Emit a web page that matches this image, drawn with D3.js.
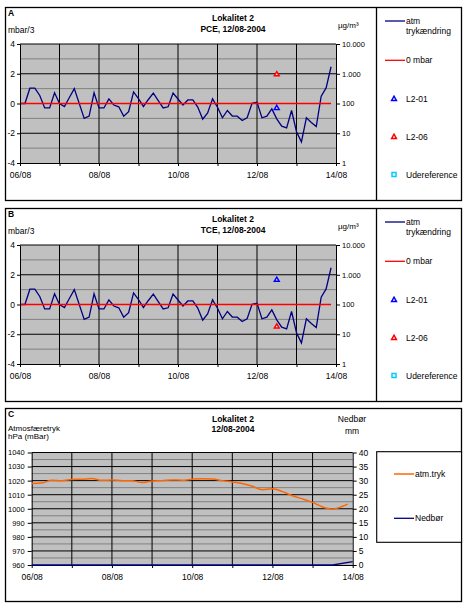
<!DOCTYPE html>
<html>
<head>
<meta charset="utf-8">
<script src="https://cdn.jsdelivr.net/npm/d3@7"></script>
<style>
  body { margin: 0; background: #fff; }
  text { font-family: "Liberation Sans", Arial, sans-serif; fill: #000; }
</style>
</head>
<body>
<div id="chart"></div>
<script>

// atm. trykændring, mbar pr. 3 timer, fra 06/08 00:00
var trykAendring = [0, 0, 1.03, 1.03, 0.54, -0.3, -0.3, 0.72, 0, -0.2,
  0.4, 1.0, 0.0, -1.0, -0.85, 0.72, -0.3, -0.3, 0.31, -0.1,
  -0.22, -0.85, -0.55, 0.78, 0.33, -0.2, 0.27, 0.7, 0.2, -0.3,
  -0.22, 0.7, 0.3, -0.1, 0.24, 0.24, -0.24, -1.05, -0.63, 0.31,
  -0.25, -0.96, -0.47, -0.84, -0.85, -1.14, -0.96, 0.02, 0.09, -0.96,
  -0.85, -0.36, -1.03, -1.52, -1.64, -0.47, -1.9, -2.58, -0.96, -1.28,
  -1.55, 0.49, 1.05, 2.47];

// målinger 12/08 kl 12 (µg/m³)
var maaleTime = 156;
var pceL201 = 70, pceL206 = 950;
var tceL201 = 670, tceL206 = 18;

// atmosfæretryk (hPa), timer fra 06/08 00:00
var atmTrykTimer = [0, 6, 12, 18, 24, 30, 36, 42, 48, 54, 60, 66, 72, 78, 84, 90,
  96, 102, 108, 114, 120, 126, 132, 138, 144, 150, 156, 162, 168, 174, 180, 186, 189];
var atmTryk = [1018, 1018.3, 1020.3, 1020, 1020.8, 1021, 1021.5, 1020.2, 1020.5, 1020,
  1020, 1018.6, 1019.8, 1020, 1020.5, 1020.3, 1021, 1021.4, 1021.2, 1020,
  1019.1, 1018, 1016, 1013.6, 1014.2, 1012.2, 1009.2, 1007, 1004.5, 1001.3,
  999.8, 1001.8, 1003.3];

// nedbør (mm)
var nedborTimer = [0, 24, 48, 72, 96, 120, 144, 168, 180, 192];
var nedbor = [0, 0, 0, 0, 0, 0, 0, 0, 0, 1.2];

var logTicks = [1, 10, 100, 1000, 10000];
var logLabels = ["1", "10", "100", "1.000", "10.000"];
var trykTicks = [960, 970, 980, 990, 1000, 1010, 1020, 1030, 1040];
var nedborTicks = [0, 5, 10, 15, 20, 25, 30, 35, 40];

var start = new Date(2004, 7, 6), slut = new Date(2004, 7, 14);
function tid(h) { return new Date(start.getTime() + h * 3600000); }

var navy = "#000080", red = "#ff0000", orange = "#ff6600", cyan = "#00ccff";

var svg = d3.select("#chart").append("svg")
  .attr("width", 466)
  .attr("height", 608);

function xTickFormat(d) {
  return d.getDate() % 2 == 0 ? d3.timeFormat("%d/%m")(d) : "";
}

function styleAxis(ax, size) {
  ax.selectAll("text").attr("font-size", size);
  ax.selectAll("line").attr("stroke", "#000");
  ax.select(".domain").attr("stroke", "#000");
}

function frame(g) {
  g.append("rect")
    .attr("x", 5.5).attr("y", 0)
    .attr("width", 456).attr("height", 193)
    .attr("fill", "none")
    .attr("stroke", "#000")
    .attr("stroke-width", 1.3);
}

function txt(g, x, y, s, opts) {
  opts = opts || {};
  return g.append("text")
    .attr("x", x).attr("y", y)
    .attr("font-size", opts.size || 8.5)
    .attr("font-weight", opts.bold ? "bold" : null)
    .attr("text-anchor", opts.anchor || "start")
    .text(s);
}

function triangle(g, x, y, col) {
  g.append("path")
    .attr("d", d3.symbol().type(d3.symbolTriangle).size(10)())
    .attr("transform", "translate(" + x + "," + y + ")")
    .attr("fill", "#fff")
    .attr("stroke", col)
    .attr("stroke-width", 1.5);
}

function panelAB(top, letter, stof, l201, l206) {
  var g = svg.append("g").attr("transform", "translate(0," + top + ")");
  frame(g);
  g.append("line")
    .attr("x1", 376.5).attr("x2", 376.5)
    .attr("y1", 0).attr("y2", 193)
    .attr("stroke", "#000").attr("stroke-width", 1.3);

  var x = d3.scaleTime().domain([start, slut]).range([20, 336]);
  var y = d3.scaleLinear().domain([-4, 4]).range([155.5, 36.5]);
  var yLog = d3.scaleLog().domain([1, 10000]).range([155.5, 36.5]);

  g.append("rect")
    .attr("x", x(start)).attr("y", y(4))
    .attr("width", x(slut) - x(start)).attr("height", y(-4) - y(4))
    .attr("fill", "#c0c0c0");

  g.selectAll(".minor").data([-3, -1, 1, 3]).enter().append("line")
    .attr("x1", x(start)).attr("x2", x(slut))
    .attr("y1", function(d) { return y(d); })
    .attr("y2", function(d) { return y(d); })
    .attr("stroke", "#808080");

  g.selectAll(".major").data([-2, 2, 4]).enter().append("line")
    .attr("x1", x(start)).attr("x2", x(slut))
    .attr("y1", function(d) { return y(d); })
    .attr("y2", function(d) { return y(d); })
    .attr("stroke", "#000");

  g.selectAll(".vgrid").data(d3.timeDay.range(d3.timeDay.offset(start, 1), slut)).enter().append("line")
    .attr("x1", function(d) { return x(d); })
    .attr("x2", function(d) { return x(d); })
    .attr("y1", y(4)).attr("y2", y(-4))
    .attr("stroke", "#000");

  var line = d3.line()
    .x(function(d, i) { return x(tid(i * 3)); })
    .y(function(d) { return y(d); });

  g.append("path")
    .datum(trykAendring)
    .attr("d", line)
    .attr("fill", "none")
    .attr("stroke", navy)
    .attr("stroke-width", 1.3);

  g.append("path")
    .datum(trykAendring.map(function() { return 0; }))
    .attr("d", line)
    .attr("fill", "none")
    .attr("stroke", red)
    .attr("stroke-width", 1.3);

  triangle(g, x(tid(maaleTime)), yLog(l201), "#0000ff");
  triangle(g, x(tid(maaleTime)), yLog(l206), red);

  var axL = g.append("g").attr("transform", "translate(" + x(start) + ",0)")
    .call(d3.axisLeft(y).tickValues([-4, -2, 0, 2, 4]).tickSize(3).tickSizeOuter(0)
      .tickPadding(2).tickFormat(function(d) { return String(d); }));
  styleAxis(axL, 8.5);

  var axR = g.append("g").attr("transform", "translate(" + x(slut) + ",0)")
    .call(d3.axisRight(yLog).tickValues(logTicks).tickSize(4).tickSizeOuter(0)
      .tickPadding(2).tickFormat(function(d, i) { return logLabels[i]; }));
  styleAxis(axR, 7.5);

  var axB = g.append("g").attr("transform", "translate(0," + y(-4) + ")")
    .call(d3.axisBottom(x).ticks(d3.timeDay.every(1)).tickSize(3).tickSizeOuter(0)
      .tickPadding(6).tickFormat(xTickFormat));
  styleAxis(axB, 8.5);

  txt(g, 8, 8.5, letter, { bold: true });
  txt(g, 8, 25, "mbar/3");
  txt(g, 233, 13.5, "Lokalitet 2", { bold: true, anchor: "middle" });
  txt(g, 233, 24, stof + ", 12/08-2004", { bold: true, anchor: "middle" });
  txt(g, 338, 20, "µg/m³", { size: 8 });

  // legend
  g.append("line").attr("x1", 385).attr("x2", 405).attr("y1", 13.5).attr("y2", 13.5)
    .attr("stroke", navy).attr("stroke-width", 1.3);
  txt(g, 406, 16.5, "atm");
  txt(g, 406, 26.5, "trykændring");
  g.append("line").attr("x1", 385).attr("x2", 405).attr("y1", 52.8).attr("y2", 52.8)
    .attr("stroke", red).attr("stroke-width", 1.3);
  txt(g, 406, 55.5, "0 mbar");
  triangle(g, 394, 91.5, "#0000ff");
  txt(g, 406, 94.5, "L2-01");
  triangle(g, 394, 129.5, red);
  txt(g, 406, 132.5, "L2-06");
  g.append("rect").attr("x", 392).attr("y", 165).attr("width", 4).attr("height", 4)
    .attr("fill", "#fff").attr("stroke", cyan).attr("stroke-width", 1.5);
  txt(g, 406, 170, "Udereference");
}

panelAB(7.5, "A", "PCE", pceL201, pceL206);
panelAB(208.5, "B", "TCE", tceL201, tceL206);

// Panel C
var gC = svg.append("g").attr("transform", "translate(0,408.5)");
frame(gC);

var xC = d3.scaleTime().domain([start, slut]).range([31.7, 352.7]);
var yC = d3.scaleLinear().domain([960, 1040]).range([156.5, 44]);
var yN = d3.scaleLinear().domain([0, 40]).range([156.5, 44]);

gC.append("rect")
  .attr("x", xC(start)).attr("y", yC(1040))
  .attr("width", xC(slut) - xC(start)).attr("height", yC(960) - yC(1040))
  .attr("fill", "#c0c0c0");

gC.selectAll(".hgrid").data(d3.range(965, 1041, 5)).enter().append("line")
  .attr("x1", xC(start)).attr("x2", xC(slut))
  .attr("y1", function(d) { return yC(d); })
  .attr("y2", function(d) { return yC(d); })
  .attr("stroke", function(d) { return d % 10 == 0 ? "#000" : "#808080"; });

gC.selectAll(".vgrid").data(d3.timeDay.range(d3.timeDay.offset(start, 1), slut)).enter().append("line")
  .attr("x1", function(d) { return xC(d); })
  .attr("x2", function(d) { return xC(d); })
  .attr("y1", yC(1040)).attr("y2", yC(960))
  .attr("stroke", "#000");

var axCL = gC.append("g").attr("transform", "translate(" + xC(start) + ",0)")
  .call(d3.axisLeft(yC).tickValues(trykTicks).tickSize(4).tickSizeOuter(0).tickPadding(3)
    .tickFormat(function(d) { return String(d); }));
styleAxis(axCL, 7.5);

var axCR = gC.append("g").attr("transform", "translate(" + xC(slut) + ",0)")
  .call(d3.axisRight(yN).tickValues(nedborTicks).tickSize(4).tickSizeOuter(0).tickPadding(2)
    .tickFormat(function(d) { return String(d); }));
styleAxis(axCR, 8.5);

var axCB = gC.append("g").attr("transform", "translate(0," + yC(960) + ")")
  .call(d3.axisBottom(xC).ticks(d3.timeDay.every(1)).tickSize(3).tickSizeOuter(0)
    .tickPadding(6).tickFormat(xTickFormat));
styleAxis(axCB, 8.5);

gC.append("path")
  .datum(d3.zip(nedborTimer, nedbor))
  .attr("d", d3.line()
    .x(function(d) { return xC(tid(d[0])); })
    .y(function(d) { return yN(d[1]); }))
  .attr("fill", "none")
  .attr("stroke", navy)
  .attr("stroke-width", 1.3);

gC.append("path")
  .datum(d3.zip(atmTrykTimer, atmTryk))
  .attr("d", d3.line()
    .curve(d3.curveMonotoneX)
    .x(function(d) { return xC(tid(d[0])); })
    .y(function(d) { return yC(d[1]); }))
  .attr("fill", "none")
  .attr("stroke", orange)
  .attr("stroke-width", 1.5);

txt(gC, 8, 8.5, "C", { bold: true });
txt(gC, 8, 22, "Atmosfæretryk", { size: 8 });
txt(gC, 8, 30, "hPa (mBar)", { size: 8 });
txt(gC, 233, 13.5, "Lokalitet 2", { bold: true, anchor: "middle" });
txt(gC, 233, 23.5, "12/08-2004", { bold: true, anchor: "middle" });
txt(gC, 352, 13.5, "Nedbør", { anchor: "middle" });
txt(gC, 352, 25.5, "mm", { anchor: "middle" });

// legend C
gC.append("rect")
  .attr("x", 376.7).attr("y", 43.2)
  .attr("width", 84.8).attr("height", 90.6)
  .attr("fill", "#fff")
  .attr("stroke", "#000")
  .attr("stroke-width", 1.1);
gC.append("line").attr("x1", 394).attr("x2", 414).attr("y1", 65.5).attr("y2", 65.5)
  .attr("stroke", orange).attr("stroke-width", 1.5);
txt(gC, 415, 68.5, "atm.tryk");
gC.append("line").attr("x1", 394).attr("x2", 414).attr("y1", 109.8).attr("y2", 109.8)
  .attr("stroke", navy).attr("stroke-width", 1.3);
txt(gC, 415, 112.5, "Nedbør");

</script>
</body>
</html>
